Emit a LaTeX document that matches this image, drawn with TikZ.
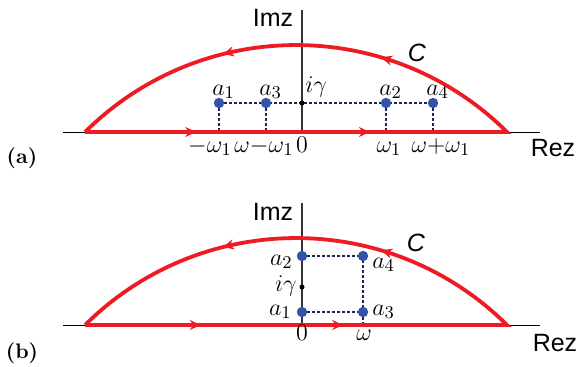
\documentclass[tikz,border=0pt]{standalone}
\usepackage{fontspec}
\newfontfamily\axisfont{Liberation Sans}
\usetikzlibrary{arrows.meta,decorations.markings}
\definecolor{contourcol}{RGB}{237,28,36}
\definecolor{polecol}{RGB}{50,84,168}
\definecolor{dashcol}{RGB}{28,36,84}
\tikzset{
  contour/.style 2 args={draw=contourcol,color=contourcol,line width=1.9pt,postaction={decorate},
    decoration={markings,
      mark=at position #1 with {\arrow{Stealth[length=5.5pt,width=5pt]}},
      mark=at position #2 with {\arrow{Stealth[length=5.5pt,width=5pt]}},
      mark=at position 0.64 with {\arrow{Stealth[length=5.5pt,width=5pt]}},
      mark=at position 0.82 with {\arrow{Stealth[length=5.5pt,width=5pt]}}}},
  realaxis/.style={black,line width=0.5pt},
  imaxis/.style={black!80,line width=0.65pt},
  poleline/.style={dashcol,line width=0.55pt,dash pattern=on 1.5pt off 1pt},
  axislabel/.style={font=\fontsize{12.5}{14}\axisfont},
  panellabel/.style={font=\fontsize{10.5}{12}\selectfont\bfseries}
}

\begin{document}
\begin{tikzpicture}[x=0.5pt,y=0.5pt,font=\fontsize{12.5}{14}\selectfont]
  \useasboundingbox (0,0) rectangle (578,366);
  % (a)
  \begin{scope}[shift={(302,234)}]
    \coordinate (oA) at (0,0);
    \coordinate (a1A) at (-83,29);
    \coordinate (a3A) at (-36,29);
    \coordinate (gA) at (0,29);
    \coordinate (a2A) at (84,29);
    \coordinate (a4A) at (131,29);
    \draw[realaxis] (-239,0) -- (238,0);
    \draw[imaxis] (oA) -- (0,122);
    \draw[poleline] (a1A) -- (a4A);
    \foreach \p in {a1A,a3A,a2A,a4A}
      \draw[poleline] (\p) -- (\p |- oA);
    \draw[contour={0.125}{0.32}] (-217,0) -- (205,0) arc[start angle=45.2,end angle=134.8,radius=299.4] -- cycle;
    \foreach \p in {a1A,a3A,a2A,a4A}
      \fill[polecol] (\p) circle (2.6pt);
    \fill (gA) circle (1.25pt);
    \node (la1A) [anchor=base west,inner sep=0pt] at (-90,37) {$a_1$};
    \node (la3A) [anchor=base west,inner sep=0pt] at (-43,37) {$a_3$};
    \node (lgA) [anchor=base west,inner sep=0pt] at (3,40) {$i\gamma$};
    \node (la2A) [anchor=base west,inner sep=0pt] at (77,37) {$a_2$};
    \node (la4A) [anchor=base west,inner sep=0pt] at (124,37) {$a_4$};
    \node (xa1A) [anchor=base] at (-92,-20) {$-\omega_1$};
    \node (xa3A) [anchor=base] at (-38,-20) {$\omega{-}\omega_1$};
    \node (x0A) [anchor=base] at (0,-20) {$0$};
    \node (xa2A) [anchor=base] at (87,-20) {$\omega_1$};
    \node (xa4A) [anchor=base] at (139,-20) {$\omega{+}\omega_1$};
    \node (imA) [axislabel] at (-29,114) {Imz};
    \node (reA) [axislabel] at (251,-16) {Rez};
    \node (cA) [axislabel] at (115,79) {\itshape C};
    \node (tagA) [panellabel] at (-280,-26) {(a)};
  \end{scope}
  % (b)
  \begin{scope}[shift={(302,41)}]
    \coordinate (oB) at (0,0);
    \coordinate (a1B) at (0,13);
    \coordinate (a2B) at (0,69);
    \coordinate (gB) at (0,38);
    \coordinate (a3B) at (61,13);
    \coordinate (a4B) at (61,69);
    \draw[realaxis] (-239,0) -- (238,0);
    \draw[imaxis] (oB) -- (0,122);
    \draw[poleline] (a1B) -- (a3B) -- (a4B) -- (a2B);
    \draw[poleline] (a3B) -- (a3B |- oB);
    \draw[contour={0.13}{0.29}] (-217,0) -- (205,0) arc[start angle=45.2,end angle=134.8,radius=299.4] -- cycle;
    \foreach \p in {a1B,a2B,a3B,a4B}
      \fill[polecol] (\p) circle (2.6pt);
    \fill (gB) circle (1.25pt);
    \node (la2B) [anchor=base east,inner sep=0pt] at (-9,60) {$a_2$};
    \node (lgB) [anchor=base east,inner sep=0pt] at (-5,34) {$i\gamma$};
    \node (la1B) [anchor=base east,inner sep=0pt] at (-10,10) {$a_1$};
    \node (la4B) [anchor=base west,inner sep=0pt] at (70,57) {$a_4$};
    \node (la3B) [anchor=base west,inner sep=0pt] at (70,10) {$a_3$};
    \node (x0B) [anchor=base] at (0,-15) {$0$};
    \node (xa3B) [anchor=base] at (62,-15) {$\omega$};
    \node (imB) [axislabel] at (-29,113) {Imz};
    \node (reB) [axislabel] at (253,-18) {Rez};
    \node (cB) [axislabel] at (114,82) {\itshape C};
    \node (tagB) [panellabel] at (-280,-28) {(b)};
  \end{scope}
\end{tikzpicture}
\end{document}
